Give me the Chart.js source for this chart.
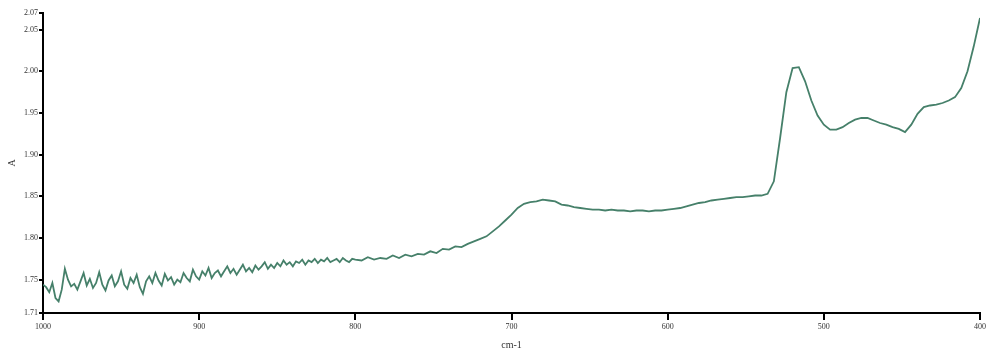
<!DOCTYPE html>
<html>
<head>
<meta charset="utf-8">
<script src="https://cdn.jsdelivr.net/npm/chart.js@4"></script>
<style>
    body { margin: 0; background: #fff; }
</style>
</head>
<body>
<canvas id="spectrum" width="988" height="363"></canvas>
<script>
// wavenumber (cm-1), left to right
const wavenumbers = [
    1000, 998, 996, 994, 992, 990, 988, 986, 984, 982, 980, 978, 976, 974, 972, 970, 968, 966, 964, 962,
    960, 958, 956, 954, 952, 950, 948, 946, 944, 942, 940, 938, 936, 934, 932, 930, 928, 926, 924, 922,
    920, 918, 916, 914, 912, 910, 908, 906, 904, 902, 900, 898, 896, 894, 892, 890, 888, 886, 884, 882,
    880, 878, 876, 874, 872, 870, 868, 866, 864, 862, 860, 858, 856, 854, 852, 850, 848, 846, 844, 842,
    840, 838, 836, 834, 832, 830, 828, 826, 824, 822, 820, 818, 816, 814, 812, 810, 808, 806, 804, 802,
    800,
    796, 792, 788, 784, 780, 776, 772, 768, 764, 760, 756, 752, 748, 744, 740, 736, 732, 728, 724, 720,
    716, 712, 708, 704, 700,
    696, 692, 688, 684, 680, 676, 672, 668, 664, 660, 656, 652, 648, 644, 640, 636, 632, 628, 624, 620,
    616, 612, 608, 604, 600, 596, 592, 588, 584, 580, 576, 572, 568, 564, 560, 556, 552, 548, 544, 540,
    536, 532, 528, 524, 520, 516, 512, 508, 504, 500, 496, 492, 488, 484, 480, 476, 472, 468, 464, 460,
    456, 452, 448, 444, 440, 436, 432, 428, 424, 420, 416, 412, 408, 404, 400
];

// absorbance
const absorbance = [
    1.744, 1.741, 1.735, 1.746, 1.728, 1.724, 1.738, 1.763, 1.750, 1.742, 1.745, 1.738, 1.748, 1.758, 1.743, 1.751, 1.740, 1.746, 1.759, 1.744,
    1.737, 1.749, 1.755, 1.742, 1.748, 1.760, 1.744, 1.739, 1.752, 1.746, 1.756, 1.741, 1.733, 1.748, 1.754, 1.746, 1.758, 1.749, 1.743, 1.757,
    1.749, 1.753, 1.744, 1.750, 1.747, 1.758, 1.752, 1.748, 1.762, 1.754, 1.750, 1.760, 1.755, 1.764, 1.752, 1.758, 1.761, 1.754, 1.760, 1.766,
    1.758, 1.763, 1.756, 1.762, 1.768, 1.760, 1.764, 1.759, 1.767, 1.762, 1.766, 1.771, 1.763, 1.768, 1.764, 1.770, 1.766, 1.773, 1.768, 1.771,
    1.766, 1.772, 1.770, 1.774, 1.768, 1.773, 1.771, 1.775, 1.770, 1.774, 1.772, 1.776, 1.771, 1.773, 1.775, 1.771, 1.776, 1.773, 1.771, 1.775,
    1.774,
    1.773, 1.777, 1.774, 1.776, 1.775, 1.779, 1.776, 1.780, 1.778, 1.781, 1.780, 1.784, 1.782, 1.787, 1.786, 1.790, 1.789, 1.793, 1.796, 1.799,
    1.802, 1.808, 1.814, 1.821, 1.828,
    1.836, 1.841, 1.843, 1.844, 1.846, 1.845, 1.844, 1.840, 1.839, 1.837, 1.836, 1.835, 1.834, 1.834, 1.833, 1.834, 1.833, 1.833, 1.832, 1.833,
    1.833, 1.832, 1.833, 1.833, 1.834, 1.835, 1.836, 1.838, 1.840, 1.842, 1.843, 1.845, 1.846, 1.847, 1.848, 1.849, 1.849, 1.850, 1.851, 1.851,
    1.853, 1.868, 1.920, 1.975, 2.004, 2.005, 1.988, 1.965, 1.947, 1.936, 1.930, 1.930, 1.933, 1.938, 1.942, 1.944, 1.944, 1.941, 1.938, 1.936,
    1.933, 1.931, 1.927, 1.936, 1.949, 1.957, 1.959, 1.960, 1.962, 1.965, 1.969, 1.980, 2.000, 2.030, 2.064
];

const yTicks = [1.71, 1.75, 1.80, 1.85, 1.90, 1.95, 2.00, 2.05, 2.07];
const xTicks = [1000, 900, 800, 700, 600, 500, 400];

const points = wavenumbers.map((w, i) => ({ x: w, y: absorbance[i] }));

const tickFont = { family: "Liberation Serif", size: 8 };

new Chart(document.getElementById("spectrum"), {
    type: "line",
    data: {
        datasets: [{
            data: points,
            borderColor: "#46806a",
            borderWidth: 1.8,
            pointRadius: 0,
            tension: 0
        }]
    },
    options: {
        responsive: false,
        animation: false,
        layout: { padding: { top: 13, right: 8, left: 6, bottom: 12 } },
        plugins: {
            legend: { display: false },
            tooltip: { enabled: false }
        },
        scales: {
            x: {
                type: "linear",
                reverse: true,
                min: 400,
                max: 1000,
                afterBuildTicks: scale => { scale.ticks = xTicks.map(v => ({ value: v })); },
                afterFit: scale => { scale.height = 38; },
                grid: { drawOnChartArea: false, drawTicks: true, tickLength: 7, color: "#000", lineWidth: 2 },
                border: { display: true, color: "#000", width: 2 },
                ticks: { font: tickFont, color: "#333", padding: 2, maxRotation: 0, callback: v => String(v) },
                title: {
                    display: true,
                    text: "cm-1",
                    color: "#333",
                    font: { family: "Liberation Serif", size: 10 },
                    padding: { top: 2, bottom: 0 }
                }
            },
            y: {
                min: 1.71,
                max: 2.07,
                afterBuildTicks: scale => { scale.ticks = yTicks.map(v => ({ value: v })); },
                afterFit: scale => { scale.width = 37; },
                grid: { drawOnChartArea: false, drawTicks: true, tickLength: 4, color: "#000", lineWidth: 2 },
                border: { display: true, color: "#000", width: 2 },
                ticks: { font: tickFont, color: "#333", padding: 1, callback: v => v.toFixed(2) },
                title: {
                    display: true,
                    text: "A",
                    color: "#333",
                    font: { family: "Liberation Serif", size: 10 },
                    padding: 0
                }
            }
        }
    }
});
</script>
</body>
</html>
